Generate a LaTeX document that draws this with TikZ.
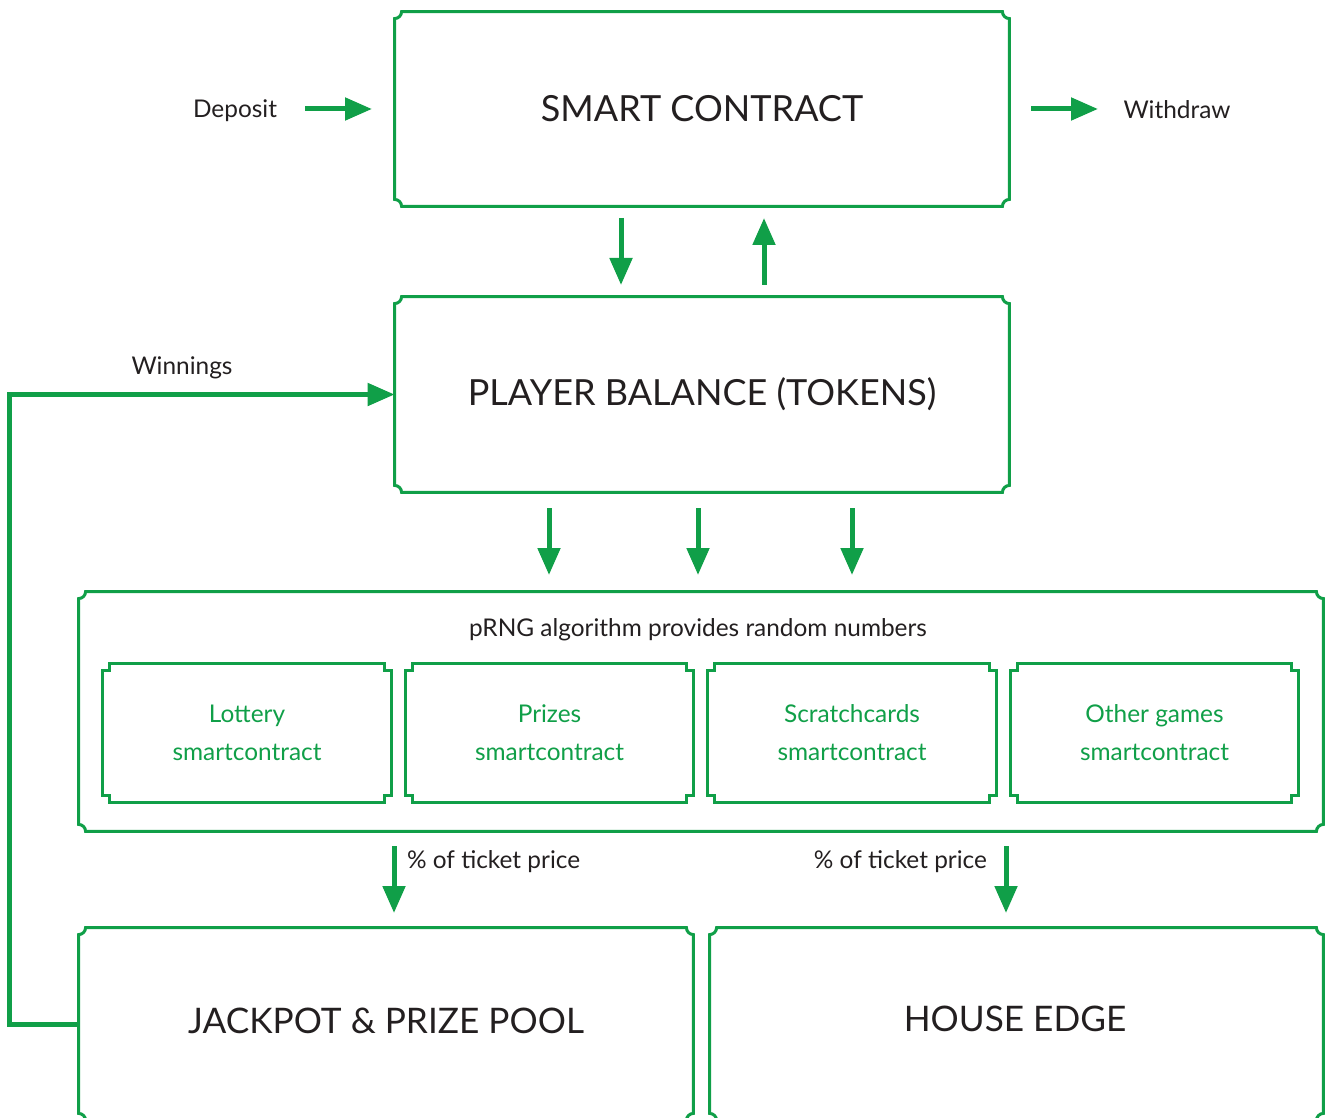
\documentclass[tikz,border=0pt]{standalone}
\usepackage{fontspec}
\setmainfont{Lato}
\usetikzlibrary{arrows.meta,calc}
\definecolor{grn}{RGB}{16,159,72}
\definecolor{txt}{RGB}{35,31,32}
\newcommand\concavebox[1]{%
  \draw[bline] let \p1=(#1.north west), \p2=(#1.south east) in
  (\x1,\y1-3.5pt) .. controls (\x1+1.9pt,\y1-3.5pt) and (\x1+3.5pt,\y1-1.9pt) .. (\x1+3.5pt,\y1)
  -- (\x2-3.5pt,\y1) .. controls (\x2-3.5pt,\y1-1.9pt) and (\x2-1.9pt,\y1-3.5pt) .. (\x2,\y1-3.5pt)
  -- (\x2,\y2+3.5pt) .. controls (\x2-1.9pt,\y2+3.5pt) and (\x2-3.5pt,\y2+1.9pt) .. (\x2-3.5pt,\y2)
  -- (\x1+3.5pt,\y2) .. controls (\x1+3.5pt,\y2+1.9pt) and (\x1+1.9pt,\y2+3.5pt) .. (\x1,\y2+3.5pt)
  -- cycle;}
\newcommand\notchbox[1]{%
  \draw[bline] let \p1=(#1.north west), \p2=(#1.south east) in
  (\x1,\y1-3.5pt) -- (\x1+3.5pt,\y1-3.5pt) -- (\x1+3.5pt,\y1)
  -- (\x2-3.5pt,\y1) -- (\x2-3.5pt,\y1-3.5pt) -- (\x2,\y1-3.5pt)
  -- (\x2,\y2+3.5pt) -- (\x2-3.5pt,\y2+3.5pt) -- (\x2-3.5pt,\y2)
  -- (\x1+3.5pt,\y2) -- (\x1+3.5pt,\y2+3.5pt) -- (\x1,\y2+3.5pt)
  -- cycle;}
\begin{document}
\begin{tikzpicture}[x=0.5pt,y=-0.5pt,
  box/.style={rectangle, inner sep=0pt, draw=none, text=txt, align=center},
  title/.style={font=\fontsize{18}{22}\selectfont},
  small/.style={font=\fontsize{12.2}{19}\selectfont, text=txt},
  gsmall/.style={small, text=grn, align=center},
  bline/.style={draw=grn, line width=1.5pt},
  garrow/.style={draw=grn, line width=2.5pt, -{Triangle[length=13.5pt,width=11pt]}},
  thickline/.style={draw=grn, line width=2.5pt, -{Triangle[length=13.5pt,width=11pt]}}]
\useasboundingbox (0,0) rectangle (1325,1117);
\clip (0,0) rectangle (1325,1117);

% main boxes
\node[box, title, minimum width=307pt, minimum height=97pt] (smart) at (702,109) {SMART CONTRACT};
\node[box, title, minimum width=307pt, minimum height=97.5pt] (player) at (702,394.5) {PLAYER BALANCE (TOKENS)};
\node[box, minimum width=622pt, minimum height=119.5pt] (prng) at (701,711.5) {};
\node[box, title, minimum width=307pt, minimum height=96pt] (jackpot) at (386,1024) {};
\node[box, title, minimum width=306.5pt, minimum height=96pt] (house) at (1016.5,1024) {};
\node[text=txt, font=\fontsize{17.6}{22}\selectfont] (jacktext) at (386,1021) {JACKPOT \& PRIZE POOL};
\node[text=txt, font=\fontsize{17.6}{22}\selectfont] (housetext) at (1015,1019) {HOUSE EDGE};
\concavebox{smart}
\concavebox{player}
\concavebox{prng}
\concavebox{jackpot}
\concavebox{house}

\node[small] (prngtext) at (698,630) {pRNG algorithm provides random numbers};

% inner boxes
\node[box, gsmall, minimum width=144pt, minimum height=69pt] (lottery) at (247,733) {Lottery\\smartcontract};
\node[box, gsmall, minimum width=143.5pt, minimum height=69pt] (prizes) at (549.5,733) {Prizes\\smartcontract};
\node[box, gsmall, minimum width=144pt, minimum height=69pt] (scratch) at (852,733) {Scratchcards\\smartcontract};
\node[box, gsmall, minimum width=143.5pt, minimum height=69pt] (other) at (1154.5,733) {Other games\\smartcontract};
\notchbox{lottery}
\notchbox{prizes}
\notchbox{scratch}
\notchbox{other}

% deposit / withdraw
\node[small] (deposit) at (235,111) {Deposit};
\node[small] (withdraw) at (1177,110) {Withdraw};
\coordinate (d1) at (305,109); \coordinate (d2) at (372,109);
\coordinate (w1) at (1031,109); \coordinate (w2) at (1098,109);
\draw[garrow] (d1) -- (d2);
\draw[garrow] (w1) -- (w2);

% smart <-> player
\coordinate (a1) at (621,218); \coordinate (a2) at (621,285);
\coordinate (b1) at (764,285); \coordinate (b2) at (764,218);
\draw[garrow] (a1) -- (a2);
\draw[garrow] (b1) -- (b2);

% player -> prng
\foreach \xx/\nm in {549/p, 698/q, 852/r}{
  \coordinate (\nm1) at (\xx,508); \coordinate (\nm2) at (\xx,575);
  \draw[garrow] (\nm1) -- (\nm2);
}

% ticket price arrows
\coordinate (t1) at (394,846); \coordinate (t2) at (394,913);
\coordinate (u1) at (1006,846); \coordinate (u2) at (1006,913);
\draw[garrow] (t1) -- (t2);
\draw[garrow] (u1) -- (u2);
\node[small, anchor=west] (pct1) at (400,862) {\% of ticket price};
\node[small, anchor=east] (pct2) at (994,862) {\% of ticket price};

% winnings loop
\coordinate (corner) at (9,1024);
\draw[thickline] (jackpot.west) -- (corner) |- (player.west);
\node[small] (winnings) at (182,368) {Winnings};
\end{tikzpicture}
\end{document}
